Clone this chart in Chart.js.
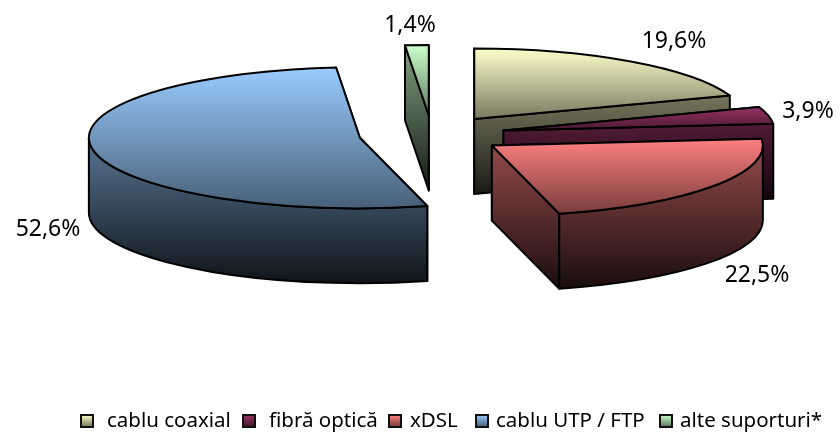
<!DOCTYPE html>
<html>
<head>
<meta charset="utf-8">
<style>
  html, body { margin: 0; padding: 0; background: #fff; overflow: hidden; }
  #wrap { width: 840px; height: 434px; }
</style>
<script src="https://cdn.jsdelivr.net/npm/chart.js@4/dist/chart.umd.min.js"></script>
</head>
<body>
<div id="wrap"><canvas id="pie" width="840" height="434"></canvas></div>
<script>
const categories = ['cablu coaxial', 'fibră optică', 'xDSL', 'cablu UTP / FTP', 'alte suporturi*'];
const shares = [19.6, 3.9, 22.5, 52.6, 1.4];
const shareLabels = ['19,6%', '3,9%', '22,5%', '52,6%', '1,4%'];
const sliceColors = [[255, 255, 204], [153, 51, 102], [255, 128, 128], [153, 204, 255], [204, 255, 204]];

// where the texts sit on the page
const labelSpots = [[674, 41], [808, 111], [757, 275], [48, 229], [410, 25]];
const legendBoxX = [80, 242, 388, 475, 659];
const legendTextX = [107, 269, 410, 496, 680];
const legendY = 421;
const FONT = '"Noto Sans", sans-serif';

// how the flat pie is tipped over into the 3d look
const view = { rx: 271, ry: 70.5, depth: 75, explode: 0.27 };

function rgb(c, k) {
  return 'rgb(' + c.map(v => Math.round(v * k)).join(',') + ')';
}

function vGradient(ctx, y0, y1, stops) {
  const g = ctx.createLinearGradient(0, y0, 0, y1);
  stops.forEach((s, i) => g.addColorStop(i / (stops.length - 1), s));
  return g;
}

const pie3d = {
  id: 'pie3d',
  beforeDatasetsDraw(chart) {
    const ctx = chart.ctx;
    const arcs = chart.getDatasetMeta(0).data;

    arcs.forEach((arc, i) => {
      const p = arc.getProps(['x', 'y', 'startAngle', 'endAngle', 'outerRadius']);
      const color = sliceColors[i];
      const mid = (p.startAngle + p.endAngle) / 2;
      const cx = p.x + Math.cos(mid) * view.explode * view.rx;
      const cy = p.y + Math.sin(mid) * view.explode * view.ry;
      const rx = view.rx;
      const ry = view.ry;
      const at = a => [cx + Math.cos(a) * rx, cy + Math.sin(a) * ry];

      const a0 = at(p.startAngle);
      const a1 = at(p.endAngle);
      const topY = Math.min(cy, a0[1], a1[1]);
      const crossesFront = p.startAngle <= Math.PI / 2 && p.endAngle >= Math.PI / 2;
      const bottomY = Math.max(cy, a0[1], a1[1], crossesFront ? cy + ry : cy);

      // rim, only the part that faces the viewer
      const from = Math.max(p.startAngle, 0);
      const to = Math.min(p.endAngle, Math.PI);
      const hasRim = to > from;
      const wallFill = vGradient(ctx, hasRim ? cy : topY, bottomY + view.depth,
        [rgb(color, hasRim ? 0.58 : 0.63), rgb(color, 0.1)]);

      ctx.save();
      ctx.lineJoin = 'round';
      ctx.lineWidth = 2;
      ctx.strokeStyle = '#000';

      // radial walls, the one further back goes first
      const ends = a0[1] < a1[1] ? [a0, a1] : [a1, a0];
      ends.forEach(e => {
        ctx.beginPath();
        ctx.moveTo(cx, cy);
        ctx.lineTo(e[0], e[1]);
        ctx.lineTo(e[0], e[1] + view.depth);
        ctx.lineTo(cx, cy + view.depth);
        ctx.closePath();
        ctx.fillStyle = wallFill;
        ctx.fill();
        ctx.stroke();
      });

      if (hasRim) {
        ctx.beginPath();
        ctx.ellipse(cx, cy, rx, ry, 0, from, to);
        ctx.ellipse(cx, cy + view.depth, rx, ry, 0, to, from, true);
        ctx.closePath();
        ctx.fillStyle = wallFill;
        ctx.fill();
        ctx.stroke();
      }

      // top face
      ctx.beginPath();
      ctx.moveTo(cx, cy);
      ctx.ellipse(cx, cy, rx, ry, 0, p.startAngle, p.endAngle);
      ctx.closePath();
      ctx.fillStyle = vGradient(ctx, topY, bottomY, [rgb(color, 1), rgb(color, 0.47)]);
      ctx.fill();
      ctx.stroke();
      ctx.restore();
    });
    return false;
  },
  afterDraw(chart) {
    const ctx = chart.ctx;
    ctx.save();
    ctx.fillStyle = '#000';
    ctx.font = '23px ' + FONT;
    ctx.textAlign = 'center';
    ctx.textBaseline = 'middle';
    shareLabels.forEach((t, i) => ctx.fillText(t, labelSpots[i][0], labelSpots[i][1]));

    ctx.font = '20.5px ' + FONT;
    ctx.textAlign = 'left';
    categories.forEach((t, i) => {
      ctx.fillStyle = vGradient(ctx, legendY - 6, legendY + 7, [rgb(sliceColors[i], 1), rgb(sliceColors[i], 0.4)]);
      ctx.strokeStyle = '#111';
      ctx.lineWidth = 2;
      ctx.fillRect(legendBoxX[i] + 1, legendY - 6, 12, 12);
      ctx.strokeRect(legendBoxX[i] + 1, legendY - 6, 12, 12);
      ctx.fillStyle = '#000';
      ctx.fillText(t, legendTextX[i], legendY);
    });
    ctx.restore();
  }
};

new Chart(document.getElementById('pie'), {
  type: 'pie',
  data: {
    labels: categories,
    datasets: [{ data: shares, backgroundColor: sliceColors.map(c => rgb(c, 1)), borderWidth: 0 }]
  },
  options: {
    responsive: false,
    animation: false,
    layout: { padding: { left: 24, bottom: 165 } },
    plugins: { legend: { display: false }, tooltip: { enabled: false } }
  },
  plugins: [pie3d]
});
</script>
</body>
</html>
